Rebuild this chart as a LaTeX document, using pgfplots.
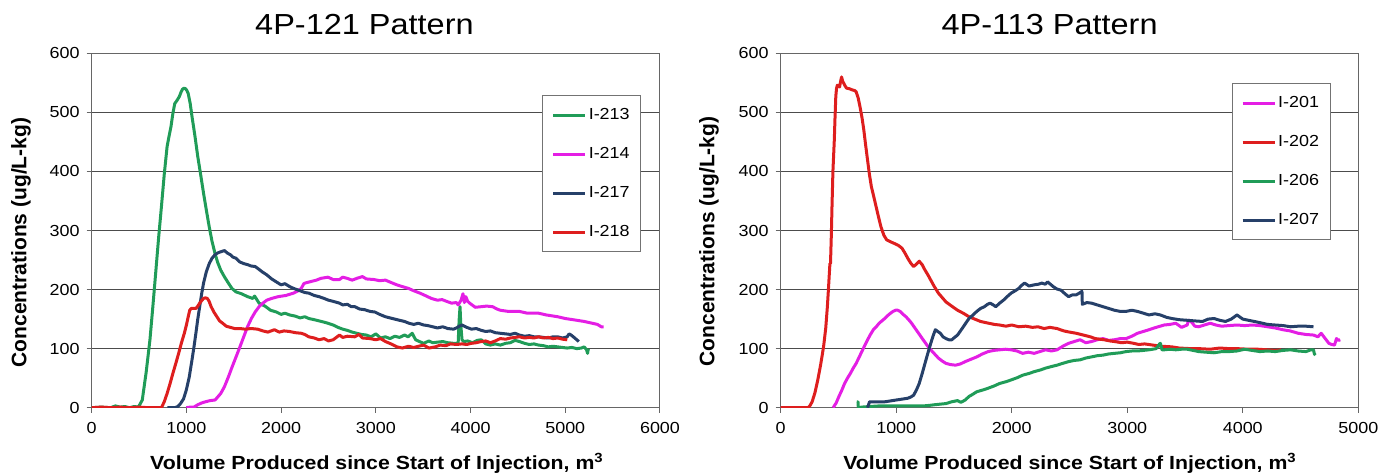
\documentclass[border=0pt]{standalone}
\usepackage{fontspec}
\setmainfont{Liberation Sans}[FakeStretch=1.12]
\newfontfamily\ylabfont{Liberation Sans}
\usepackage{pgfplots}
\pgfplotsset{compat=1.18}
\definecolor{cgreen}{RGB}{32,156,88}
\definecolor{cmag}{RGB}{228,30,228}
\definecolor{cnavy}{RGB}{38,64,105}
\definecolor{cred}{RGB}{222,30,30}
\pgfplotsset{
  every axis title shift=0pt,
  panel/.style={
    scale only axis, height=177.2pt,
    xmin=0, ymin=0, ymax=600, ytick={0,100,...,600},
    ymajorgrids, grid style={black!70, line width=0.5pt},
    axis line style={black!60, line width=0.5pt},
    tick style={black!60, line width=0.5pt},
    tick align=outside, major tick length=2.5pt,
    xtick pos=left, ytick pos=left,
    tick label style={font=\fontsize{8}{9.6}\selectfont},
    xticklabel style={yshift=-1.5pt},
    /pgf/number format/assume math mode=true,
    /pgf/number format/set thousands separator={},
    title style={anchor=base, font=\fontsize{14.5}{17}\selectfont},
    xlabel style={anchor=base, font=\bfseries\fontsize{9.5}{11}\selectfont},
    ylabel style={anchor=center, font=\ylabfont\bfseries\fontsize{10.5}{12}\selectfont},
    legend style={anchor=north west, draw=black!55, line width=0.5pt, fill=white,
      font=\fontsize{8}{9.6}\selectfont, inner xsep=4.5pt, inner ysep=5pt,
      row sep=10pt, nodes={inner sep=1pt, text height=6pt, text depth=1.5pt}},
    legend cell align=left,
    legend image code/.code={\draw[#1, line width=1.5pt] (0pt,0pt) -- (16pt,0pt);},
    every axis plot/.append style={line width=1.5pt, line join=round, mark=none},
  }
}
\begin{document}
\begin{tikzpicture}
\path[use as bounding box] (0,0) rectangle (696.5pt,238pt);
\begin{axis}[panel, at={(45.85pt,34.15pt)}, anchor=south west,
  width=284.15pt, xmax=6000, xtick={0,1000,...,6000},
  title={4P-121 Pattern}, title style={at={(axis description cs:0.48,1.0517)}},
  xlabel={Volume Produced since Start of Injection, m\textsuperscript{3}},
  xlabel style={at={(axis description cs:0.502,-0.1758)}},
  ylabel={Concentrations (ug/L-kg)},
  ylabel style={at={(axis description cs:-0.1244,0.4661)}},
  legend style={at={(0.7929,0.8823)}}]
\addplot[cgreen] coordinates {(0,0) (100,1) (200,0) (250,3) (300,1) (350,2) (400,0) (450,2) (493,1) (534,13) (575,60) (615,115) (645,170) (675,227) (705,285) (736,340) (766,395) (796,442) (817,460) (837,476) (857,498) (877,515) (900,520) (926,527) (945,535) (958,539) (975,541) (991,540) (1005,537) (1019,532) (1040,515) (1059,493) (1090,460) (1120,425) (1150,395) (1181,363) (1210,335) (1241,306) (1270,282) (1302,261) (1330,246) (1362,233) (1400,222) (1443,211) (1480,202) (1524,196) (1580,193) (1646,188) (1700,185) (1720,189) (1767,177) (1830,172) (1888,165) (1950,162) (2000,158) (2040,160) (2090,157) (2150,155) (2200,152) (2250,154) (2292,151) (2350,149) (2400,147) (2450,145) (2494,143) (2550,140) (2600,136) (2650,133) (2697,131) (2750,128) (2800,126) (2850,124) (2899,123) (2950,120) (3000,125) (3050,118) (3101,120) (3150,117) (3200,121) (3250,119) (3303,123) (3340,120) (3384,126) (3420,115) (3460,112) (3505,109) (3560,113) (3600,110) (3650,111) (3707,112) (3760,110) (3820,109) (3869,109) (3880,150) (3889,171) (3897,140) (3910,115) (3930,112) (3970,113) (4020,110) (4070,114) (4112,115) (4160,108) (4210,106) (4260,108) (4314,106) (4370,109) (4420,110) (4470,114) (4516,112) (4570,109) (4620,107) (4670,108) (4718,106) (4770,105) (4820,103) (4870,104) (4920,103) (4970,102) (5020,101) (5070,102) (5122,100) (5170,101) (5200,103) (5225,98) (5235,92) (5244,100)};
\addlegendentry{I-213}
\addplot[cmag] coordinates {(999,0) (1040,1) (1079,1) (1120,5) (1160,8) (1201,10) (1250,12) (1302,13) (1330,18) (1362,24) (1400,35) (1443,52) (1480,68) (1524,86) (1565,103) (1605,120) (1645,137) (1686,151) (1726,162) (1767,171) (1807,177) (1848,182) (1900,185) (1969,188) (2050,190) (2131,194) (2180,198) (2212,202) (2240,210) (2252,211) (2300,213) (2373,216) (2420,219) (2494,221) (2550,217) (2616,217) (2650,221) (2697,219) (2750,216) (2800,219) (2858,222) (2900,218) (2980,217) (3040,215) (3101,216) (3160,212) (3222,208) (3280,205) (3344,202) (3400,198) (3465,194) (3520,190) (3586,185) (3650,182) (3700,183) (3748,180) (3800,177) (3850,178) (3869,174) (3900,182) (3920,193) (3935,178) (3950,188) (3970,180) (3990,177) (4050,170) (4112,171) (4170,172) (4233,171) (4280,167) (4314,165) (4400,163) (4516,163) (4600,160) (4718,160) (4800,157) (4920,154) (5000,151) (5122,148) (5200,146) (5284,143) (5340,141) (5380,137) (5405,137)};
\addlegendentry{I-214}
\addplot[cnavy] coordinates {(800,0) (877,0) (910,2) (938,7) (970,15) (999,30) (1030,52) (1059,81) (1080,103) (1100,126) (1120,150) (1140,171) (1160,192) (1181,211) (1210,230) (1241,244) (1270,253) (1302,259) (1330,262) (1362,264) (1403,266) (1430,262) (1464,259) (1490,255) (1524,253) (1560,247) (1605,244) (1650,242) (1680,240) (1726,239) (1760,235) (1800,230) (1848,225) (1900,218) (1969,211) (2000,208) (2040,210) (2090,205) (2131,202) (2200,198) (2250,195) (2292,194) (2350,190) (2400,188) (2454,185) (2500,182) (2550,180) (2616,177) (2650,174) (2700,175) (2740,171) (2778,171) (2830,167) (2880,166) (2939,163) (2990,162) (3040,158) (3101,154) (3150,152) (3200,150) (3250,148) (3303,146) (3350,143) (3400,141) (3450,143) (3505,140) (3550,139) (3600,137) (3650,135) (3707,137) (3760,134) (3820,133) (3850,135) (3880,138) (3909,140) (3960,136) (4010,133) (4060,134) (4112,131) (4160,129) (4210,130) (4260,127) (4314,126) (4370,125) (4420,124) (4470,126) (4516,123) (4570,121) (4620,122) (4670,120) (4718,120) (4770,119) (4820,118) (4870,120) (4920,120) (4970,118) (5020,120) (5040,125) (5062,123) (5100,118) (5143,112)};
\addlegendentry{I-217}
\addplot[cred] coordinates {(0,0) (100,1) (200,0) (300,1) (400,0) (500,1) (600,0) (700,0) (736,0) (766,10) (796,24) (826,40) (857,58) (888,75) (918,92) (948,110) (978,126) (1000,140) (1019,154) (1035,165) (1051,168) (1075,168) (1100,168) (1120,172) (1140,177) (1160,181) (1181,185) (1200,186) (1221,185) (1240,180) (1261,171) (1290,162) (1322,154) (1350,147) (1383,143) (1420,138) (1464,136) (1510,134) (1565,134) (1620,133) (1686,134) (1750,133) (1807,130) (1860,128) (1929,132) (1980,128) (2030,130) (2090,129) (2150,127) (2212,126) (2250,124) (2292,120) (2350,118) (2400,115) (2454,117) (2500,113) (2550,115) (2616,123) (2650,119) (2700,121) (2778,120) (2820,124) (2860,118) (2939,117) (3000,115) (3050,117) (3101,112) (3160,108) (3222,103) (3280,101) (3344,104) (3400,102) (3450,104) (3505,106) (3560,101) (3627,103) (3680,106) (3740,105) (3788,108) (3850,107) (3909,108) (3960,107) (4010,109) (4060,110) (4112,112) (4160,113) (4210,110) (4260,113) (4314,117) (4370,116) (4420,118) (4470,119) (4516,120) (4570,118) (4620,119) (4670,118) (4718,120) (4770,118) (4820,119) (4870,117) (4920,118) (4970,116) (5021,115)};
\addlegendentry{I-218}
\end{axis}
\begin{axis}[panel, at={(390.35pt,34.15pt)}, anchor=south west,
  width=288.8pt, xmax=5000, xtick={0,1000,...,5000},
  title={4P-113 Pattern}, title style={at={(axis description cs:0.4655,1.0517)}},
  xlabel={Volume Produced since Start of Injection, m\textsuperscript{3}},
  xlabel style={at={(axis description cs:0.5009,-0.1758)}},
  ylabel={Concentrations (ug/L-kg)},
  ylabel style={at={(axis description cs:-0.1241,0.469)}},
  legend style={at={(0.7808,0.9153)}}]
\addplot[cmag] coordinates {(454,0) (480,8) (504,19) (530,30) (553,41) (578,50) (603,58) (628,67) (653,75) (678,85) (702,95) (727,105) (752,115) (777,124) (802,132) (827,137) (852,143) (876,147) (901,151) (926,156) (951,160) (972,163) (994,165) (1014,165) (1034,163) (1060,158) (1084,154) (1108,149) (1133,143) (1158,136) (1183,129) (1208,122) (1233,115) (1266,106) (1299,98) (1332,91) (1365,84) (1398,79) (1431,75) (1470,73) (1514,72) (1555,74) (1597,78) (1647,82) (1697,86) (1746,91) (1796,95) (1845,97) (1895,98) (1945,99) (1995,98) (2045,96) (2094,92) (2144,94) (2194,92) (2243,95) (2293,98) (2343,96) (2392,98) (2442,104) (2492,109) (2541,112) (2591,115) (2641,110) (2691,112) (2740,115) (2790,117) (2840,114) (2889,115) (2939,117) (2989,117) (3040,121) (3088,126) (3138,129) (3188,132) (3250,136) (3320,140) (3370,141) (3420,143) (3470,136) (3519,140) (3530,148) (3552,146) (3585,138) (3618,137) (3668,140) (3718,143) (3767,140) (3817,138) (3880,139) (3950,140) (4016,139) (4082,140) (4148,139) (4215,137) (4280,135) (4347,132) (4410,130) (4480,126) (4546,124) (4612,123) (4650,120) (4679,126) (4710,118) (4745,109) (4770,107) (4794,106) (4811,117) (4830,114) (4844,115)};
\addlegendentry{I-201}
\addplot[cred] coordinates {(0,0) (100,0) (200,0) (239,0) (255,4) (272,10) (296,25) (321,47) (346,73) (371,103) (390,135) (404,171) (413,200) (421,227) (426,244) (431,244) (438,290) (444,340) (452,400) (464,453) (470,490) (477,527) (483,540) (490,546) (500,545) (510,543) (518,552) (527,560) (537,552) (547,549) (557,545) (570,541) (595,540) (620,538) (640,537) (653,535) (670,525) (686,510) (703,492) (719,471) (735,445) (752,419) (768,395) (785,374) (800,362) (818,347) (843,326) (868,306) (893,292) (918,284) (950,281) (984,278) (1017,275) (1050,270) (1075,262) (1100,253) (1125,245) (1150,239) (1175,243) (1199,248) (1225,242) (1249,233) (1274,225) (1299,216) (1330,205) (1365,194) (1400,186) (1431,179) (1480,172) (1531,165) (1580,160) (1630,154) (1680,150) (1730,146) (1800,143) (1850,141) (1895,140) (1950,138) (2000,140) (2061,137) (2120,138) (2180,136) (2227,137) (2280,134) (2330,136) (2392,134) (2450,130) (2500,128) (2558,126) (2620,123) (2680,120) (2724,117) (2800,115) (2850,113) (2889,112) (2950,110) (3000,111) (3055,109) (3100,107) (3150,108) (3221,106) (3300,104) (3386,103) (3450,101) (3552,100) (3620,100) (3718,99) (3800,101) (3883,100) (3950,100) (4049,99) (4130,99) (4215,98) (4280,97) (4331,98)};
\addlegendentry{I-202}
\addplot[cgreen] coordinates {(660,10) (669,10) (672,0) (700,1) (769,2) (850,3) (901,3) (1000,3) (1067,3) (1150,3) (1233,3) (1290,4) (1332,5) (1380,6) (1431,7) (1480,10) (1531,12) (1560,9) (1597,13) (1630,19) (1665,23) (1697,27) (1750,30) (1796,33) (1850,37) (1895,41) (1950,44) (1995,47) (2050,51) (2094,55) (2150,58) (2194,61) (2250,64) (2293,67) (2350,70) (2392,72) (2440,75) (2492,78) (2540,80) (2591,81) (2640,84) (2691,86) (2740,88) (2790,89) (2840,91) (2889,92) (2940,93) (2989,95) (3040,96) (3088,96) (3140,97) (3188,98) (3250,100) (3280,108) (3287,109) (3300,98) (3320,98) (3370,99) (3420,98) (3470,99) (3519,99) (3570,97) (3618,95) (3680,94) (3751,93) (3820,95) (3883,95) (3950,96) (4016,99) (4080,97) (4148,95) (4215,96) (4281,95) (4350,97) (4414,98) (4480,96) (4546,95) (4590,98) (4612,98) (4620,91) (4629,89)};
\addlegendentry{I-206}
\addplot[cnavy] coordinates {(752,0) (769,10) (800,10) (835,10) (870,10) (901,10) (935,11) (968,12) (1000,13) (1034,14) (1067,15) (1100,16) (1125,18) (1150,21) (1175,30) (1199,41) (1225,58) (1249,75) (1275,93) (1299,109) (1320,122) (1339,132) (1360,129) (1382,126) (1405,120) (1431,117) (1455,115) (1481,115) (1505,119) (1531,123) (1556,130) (1581,137) (1605,144) (1630,151) (1665,157) (1697,163) (1730,168) (1763,171) (1790,175) (1813,177) (1840,174) (1862,171) (1895,177) (1928,182) (1960,188) (1995,194) (2030,198) (2061,202) (2085,207) (2111,211) (2150,206) (2194,208) (2230,209) (2260,211) (2290,209) (2310,213) (2335,209) (2359,205) (2390,201) (2426,199) (2460,193) (2492,188) (2525,191) (2558,191) (2585,194) (2608,197) (2611,175) (2650,178) (2691,177) (2740,174) (2790,171) (2840,168) (2889,165) (2940,163) (2989,163) (3040,165) (3088,163) (3140,160) (3188,157) (3240,159) (3287,157) (3340,153) (3386,151) (3450,149) (3519,148) (3580,147) (3652,146) (3700,150) (3751,151) (3800,148) (3850,146) (3900,150) (3950,157) (4000,150) (4049,148) (4100,146) (4148,144) (4215,141) (4281,140) (4350,139) (4414,137) (4480,138) (4546,138) (4612,137)};
\addlegendentry{I-207}
\end{axis}
\end{tikzpicture}
\end{document}
